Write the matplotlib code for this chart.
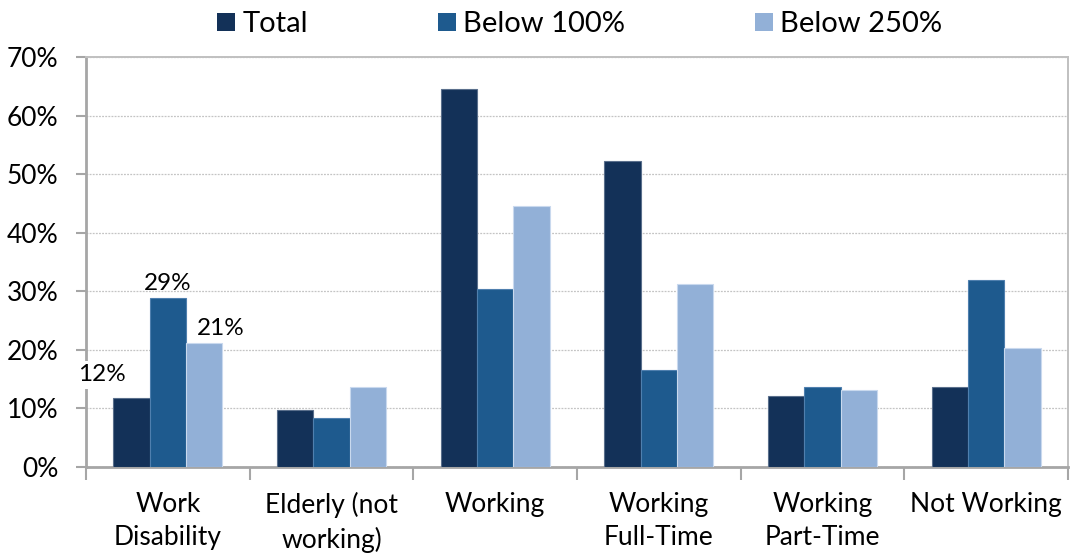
import matplotlib
matplotlib.use("Agg")
import matplotlib.pyplot as plt
from matplotlib.patches import Patch
from matplotlib.ticker import PercentFormatter, FixedLocator
import numpy as np

categories = ["Work\nDisability", "Elderly (not\nworking)", "Working",
              "Working\nFull-Time", "Working\nPart-Time", "Not Working"]
series_names = ["Total", "Below 100%", "Below 250%"]
total = [11.8, 9.8, 64.5, 52.2, 12.2, 13.7]
below_100 = [28.8, 8.3, 30.4, 16.6, 13.7, 31.9]
below_250 = [21.2, 13.7, 44.5, 31.2, 13.1, 20.4]
y_ticks = [0, 10, 20, 30, 40, 50, 60, 70]

colors = ["#133158", "#1e5a8e", "#92b0d7"]
edges = ["#5a6f8c", "#4f7fae", "#c9d9ee"]

plt.rcParams["font.family"] = ["Lato", "DejaVu Sans"]

fig = plt.figure(figsize=(10.7, 5.54), dpi=100)
ax = fig.add_axes([86 / 1070, 87 / 554, (1068 - 86) / 1070, (467 - 57) / 554])

x = np.arange(len(categories))
width = 1 / 4.5
all_series = [total, below_100, below_250]
for i, (vals, c, e) in enumerate(zip(all_series, colors, edges)):
    ax.bar(x + (i - 1) * width, vals, width, color=c, edgecolor=e,
           linewidth=0.8, label=series_names[i], zorder=3)

ax.set_xlim(-0.5, len(categories) - 0.5)
ax.set_ylim(0, 70)
ax.yaxis.set_major_locator(FixedLocator(y_ticks))
ax.yaxis.set_major_formatter(PercentFormatter(decimals=0))

ax.grid(axis="y", color="#c4c4c4", linestyle=(0, (1.5, 1)), linewidth=0.9, zorder=0)
ax.set_axisbelow(True)

for side in ["top", "right"]:
    ax.spines[side].set_color("#c0c0c0")
    ax.spines[side].set_linewidth(1.4)
for side in ["left", "bottom"]:
    ax.spines[side].set_color("#a6a6a6")
    ax.spines[side].set_linewidth(2)

ax.set_xticks(x)
ax.set_xticklabels(categories, fontsize=19, linespacing=1.4)
ax.set_xticks(np.arange(-0.5, len(categories)), minor=True)
ax.tick_params(axis="x", which="major", length=0, pad=18)
ax.tick_params(axis="x", which="minor", length=9, width=1.5, color="#a6a6a6")
ax.tick_params(axis="y", length=7, width=1.5, color="#a6a6a6", labelsize=19, pad=13)

# value labels on the Work Disability group
offsets = [(-21, 9), (0, 3), (12, 3)]
for i, (vals, off) in enumerate(zip(all_series, offsets)):
    v = vals[0]
    ax.annotate(f"{v:.0f}%", xy=(x[0] + (i - 1) * width, v), xytext=off,
                textcoords="offset points", ha="center", va="bottom", fontsize=17.5,
                zorder=5, annotation_clip=False,
                bbox=dict(boxstyle="square,pad=0.15", fc="white", ec="none") if i == 0 else None)

handles = [Patch(facecolor=c, edgecolor="none") for c in colors]
fig.legend(handles, series_names, loc="upper center", bbox_to_anchor=(0.542, 1.027),
           ncol=3, frameon=False, fontsize=21, handlelength=0.62, handleheight=0.62,
           handletextpad=0.25, columnspacing=4.45)

fig.savefig("out.png", dpi=100)
